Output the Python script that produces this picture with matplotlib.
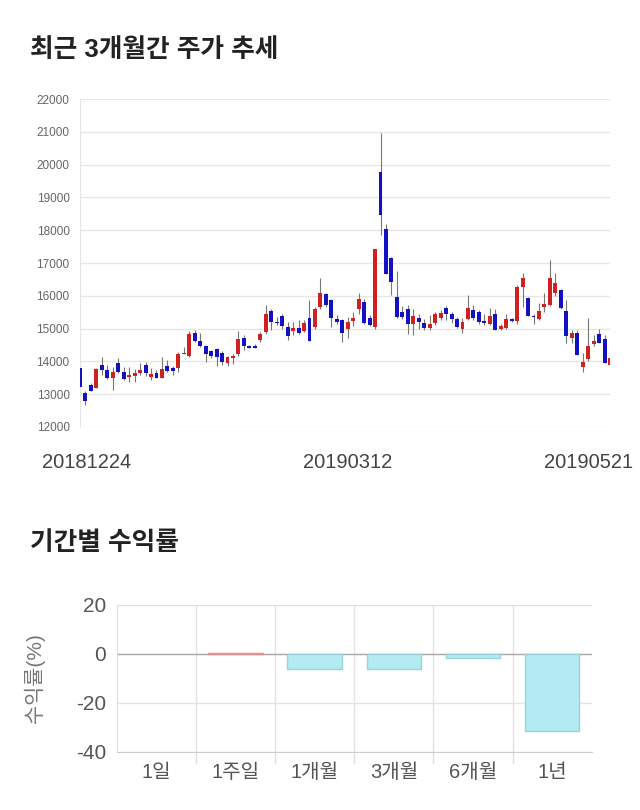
#!/usr/bin/env python3
import matplotlib
matplotlib.use("Agg")
import matplotlib.pyplot as plt
import matplotlib.transforms as mtransforms

plt.rcParams['font.family'] = ['Liberation Sans', 'Noto Sans CJK KR']
plt.rcParams['axes.unicode_minus'] = False

# --- 3 month daily candles ---
opens = [13790, 13050, 13280, 13180, 13890, 13740, 13480, 13940, 13670, 13520,
         13560, 13640, 13890, 13520, 13640, 13480, 13870, 13810, 13810, 14230,
         14150, 14880, 14630, 14470, 14320, 14370, 14270, 13960, 14110, 14220,
         14720, 14470, 14470, 14650, 14890, 15540, 15210, 15380, 15060, 14930,
         15010, 14930, 15310, 15040, 15670, 16070, 15870, 15280, 15260, 14990,
         15230, 15590, 15820, 15330, 15060, 19780, 18030, 17140, 15970, 15520,
         15590, 15130, 15310, 15160, 15030, 15180, 15330, 15620, 15440, 15280,
         14980, 15280, 15570, 15520, 15210, 15130, 15440, 14980, 15030, 15280,
         15230, 16280, 15920, 15380, 15280, 15670, 15720, 16080, 16180, 15540,
         14720, 14880, 13820, 14060, 14520, 14830, 14670, 13890]
highs = [13990, 13100, 13330, 13800, 14120, 13890, 13840, 14090, 13840, 13840,
         13760, 13960, 13990, 13810, 13740, 14120, 14040, 13860, 14300, 14430,
         14940, 14970, 14880, 14500, 14350, 14400, 14320, 14170, 14220, 14940,
         14800, 14500, 14520, 14900, 15720, 15600, 15350, 15460, 15210, 15200,
         15260, 15260, 15870, 15660, 16530, 16100, 15900, 15400, 15300, 15360,
         15520, 16080, 15900, 15400, 17430, 20960, 18180, 17190, 16750, 15700,
         15720, 15600, 15450, 15300, 15400, 15500, 15560, 15680, 15520, 15360,
         15310, 16020, 15720, 15560, 15450, 15640, 15600, 15150, 15430, 15330,
         16330, 16690, 15950, 15460, 15770, 16080, 17090, 16690, 16220, 15870,
         14960, 14960, 14250, 15310, 14800, 15000, 14800, 14300]
lows = [13230, 12670, 13100, 13180, 13590, 13450, 13130, 13640, 13430, 13380,
        13380, 13600, 13560, 13430, 13480, 13480, 13680, 13600, 13690, 14220,
        14140, 14600, 14440, 13990, 14100, 13850, 13900, 13870, 13920, 14150,
        14350, 14400, 14400, 14600, 14850, 14960, 15100, 15000, 14650, 14800,
        14830, 14900, 14630, 15000, 15600, 15650, 15060, 15150, 14600, 14700,
        15070, 15450, 15130, 15080, 15000, 17850, 16660, 16020, 15330, 15300,
        14830, 14820, 14990, 14950, 14960, 15120, 15260, 15260, 15160, 15010,
        14880, 15250, 15260, 15150, 15110, 15110, 14960, 14960, 15000, 15200,
        15130, 15670, 15380, 15150, 15250, 15500, 15680, 16000, 15600, 14550,
        14550, 14200, 13690, 14000, 14480, 14550, 13960, 13850]
closes = [13230, 12780, 13110, 13770, 13740, 13480, 13670, 13670, 13460, 13590,
          13640, 13740, 13640, 13610, 13480, 13770, 13720, 13710, 14225, 14270,
          14830, 14630, 14480, 14230, 14170, 14120, 13990, 14120, 14170, 14670,
          14480, 14420, 14420, 14830, 15440, 15210, 15160, 15090, 14780, 15010,
          14880, 15180, 14630, 15590, 16090, 15720, 15310, 15210, 14880, 15210,
          15330, 15890, 15180, 15110, 17430, 18460, 16660, 16430, 15360, 15360,
          15130, 15380, 15210, 15030, 15130, 15440, 15490, 15440, 15280, 15060,
          15210, 15620, 15330, 15210, 15180, 15380, 14960, 15080, 15280, 15230,
          16280, 16530, 15380, 15340, 15540, 15740, 16530, 16380, 15620, 14770,
          14880, 14200, 13990, 14470, 14630, 14570, 13960, 14090]
date_ticks = [0, 49, 97]
date_labels = ["20181224", "20190312", "20190521"]
price_ticks = list(range(12000, 22001, 1000))

# --- period returns ---
periods = ["1일", "1주일", "1개월", "3개월", "6개월", "1년"]
returns = [0.0, 0.4, -6.3, -6.2, -1.8, -31.6]

UP, DOWN = "#d12020", "#1212c4"

fig = plt.figure(figsize=(6.4, 8.1), dpi=100)
fig.text(30 / 640, 1 - 50 / 810, "최근 3개월간 주가 추세", fontsize=18.5,
         fontweight="bold", color="#222222", va="center")
fig.text(30 / 640, 1 - 543 / 810, "기간별 수익률", fontsize=18.5,
         fontweight="bold", color="#222222", va="center")

# top: candlestick chart
ax = fig.add_axes([80 / 640, 383 / 810, 530 / 640, 328 / 810])
idx = list(range(len(opens)))
colors = [UP if c >= o else DOWN for o, c in zip(opens, closes)]
ax.vlines(idx, lows, highs, color="#777777", linewidth=0.8, zorder=2)
bottoms = [min(o, c) for o, c in zip(opens, closes)]
heights = [max(abs(c - o), 40) for o, c in zip(opens, closes)]
ax.bar(idx, heights, bottom=bottoms, width=0.72, color=colors,
       linewidth=0, zorder=3)
ax.set_xlim(0, 97)
ax.set_ylim(12000, 22000)
ax.set_yticks(price_ticks)
ax.set_yticklabels([str(t) for t in price_ticks])
ax.set_xticks(date_ticks)
ax.set_xticklabels(date_labels)
ax.tick_params(axis="y", length=0, pad=7.5, labelsize=8.5, labelcolor="#666666")
ax.tick_params(axis="x", length=0, pad=19, labelsize=14.5, labelcolor="#444444")
ax.grid(axis="y", color="#e6e6e6", linewidth=1)
ax.set_axisbelow(True)
for s in ["top", "right", "bottom"]:
    ax.spines[s].set_visible(False)
ax.spines["left"].set_color("#e6e6e6")
labs = ax.get_xticklabels()
labs[0].set_transform(labs[0].get_transform() +
                      mtransforms.ScaledTranslation(6.5 / 100, 0, fig.dpi_scale_trans))
labs[-1].set_transform(labs[-1].get_transform() +
                       mtransforms.ScaledTranslation(-21 / 100, 0, fig.dpi_scale_trans))

# bottom: returns bar chart
ax2 = fig.add_axes([117 / 640, 58.3 / 810, 474.7 / 640, 146.7 / 810])
pos = list(range(len(periods)))
bar_colors = ["#f7b8b8" if r > 0 else "#b3ebf3" for r in returns]
edge_colors = ["#e59090" if r > 0 else "#95d3dd" for r in returns]
edge_widths = [1 if r != 0 else 0 for r in returns]
ax2.bar(pos, returns, width=0.69, color=bar_colors, edgecolor=edge_colors,
        linewidth=edge_widths, zorder=3)
ax2.set_xlim(-0.5, 5.5)
ax2.set_ylim(-40, 20)
ax2.set_yticks([20, 0, -20, -40])
ax2.set_xticks(pos)
ax2.set_xticklabels(periods)
ax2.set_xticks([p + 0.5 for p in pos[:-1]], minor=True)
ax2.tick_params(axis="x", which="major", length=0, pad=8, labelsize=14.5,
                labelcolor="#555555")
ax2.tick_params(axis="x", which="minor", length=8, color="#dddddd", width=1)
ax2.tick_params(axis="y", length=0, pad=8, labelsize=15, labelcolor="#555555")
ax2.grid(axis="y", color="#e3e3e3", linewidth=1)
ax2.grid(axis="x", which="minor", color="#e3e3e3", linewidth=1)
ax2.axhline(0, color="#aaaaaa", linewidth=1, zorder=2)
ax2.set_axisbelow(True)
for s in ["top", "right"]:
    ax2.spines[s].set_visible(False)
ax2.spines["left"].set_color("#dddddd")
ax2.spines["bottom"].set_color("#cccccc")
ax2.set_ylabel("수익률(%)", fontsize=15, color="#777777")
ax2.yaxis.set_label_coords(-0.152, 0.5)

fig.savefig("out.png", dpi=100)
